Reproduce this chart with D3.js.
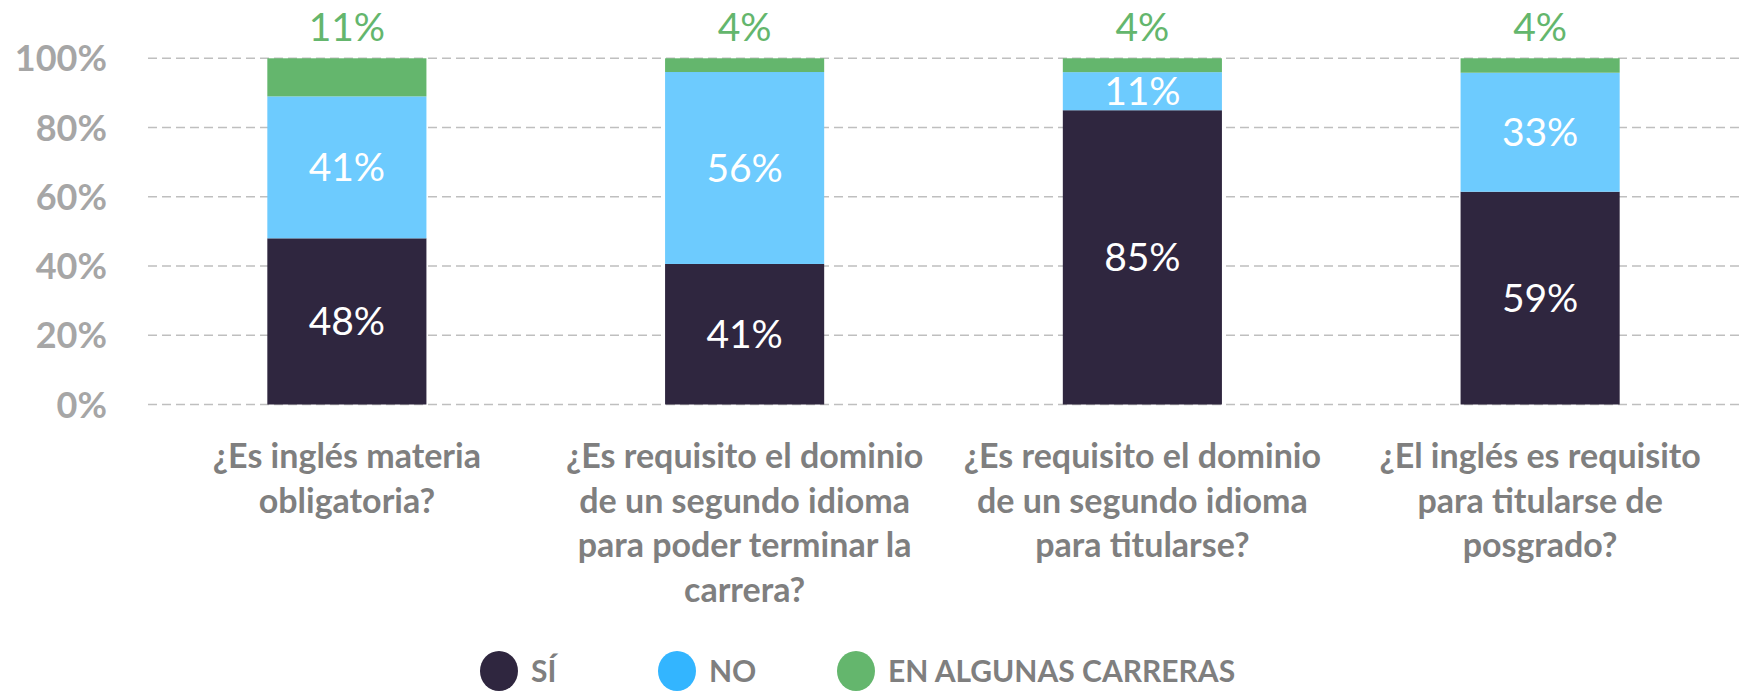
<!DOCTYPE html>
<html>
<head>
<meta charset="utf-8">
<script src="https://cdn.jsdelivr.net/npm/d3@7"></script>
<style>
  body { margin: 0; background: #fff; }
  svg { display: block; font-family: Lato, "Open Sans", sans-serif; }
</style>
</head>
<body>
<script>
  // chart data
  var categories = [
    ['¿Es inglés materia', 'obligatoria?'],
    ['¿Es requisito el dominio', 'de un segundo idioma', 'para poder terminar la', 'carrera?'],
    ['¿Es requisito el dominio', 'de un segundo idioma', 'para titularse?'],
    ['¿El inglés es requisito', 'para titularse de', 'posgrado?']
  ];
  var siValues = [48, 41, 85, 59];
  var noValues = [41, 56, 11, 33];
  var algunasValues = [11, 4, 4, 4];
  var seriesNames = ['SÍ', 'NO', 'EN ALGUNAS CARRERAS'];
  var yTicks = [0, 0.2, 0.4, 0.6, 0.8, 1];

  var w = 1739;
  var h = 692;
  var plotLeft = 148, plotRight = 1739, plotTop = 58.3, plotBottom = 404.5;

  var barColors = ['#2f263f', '#6dcbfe', '#64b66d'];
  var legendColors = ['#2f263f', '#33b5ff', '#64b66d'];

  var rows = categories.map(function(c, i) {
    return { i: i, si: siValues[i], no: noValues[i], alg: algunasValues[i] };
  });

  // 100% stacked, like the original
  var stack = d3.stack()
    .keys(['si', 'no', 'alg'])
    .offset(d3.stackOffsetExpand);
  var series = stack(rows);

  var xScale = d3.scaleBand()
    .domain(d3.range(categories.length))
    .range([plotLeft, plotRight])
    .paddingInner(0.6)
    .paddingOuter(0.3);

  var yScale = d3.scaleLinear()
    .domain([0, 1])
    .range([plotBottom, plotTop]);

  var svg = d3.select('body')
    .append('svg')
    .attr('width', w)
    .attr('height', h);

  // gridlines
  svg.selectAll('line.grid')
    .data(yTicks)
    .enter()
    .append('line')
    .attr('class', 'grid')
    .attr('x1', plotLeft)
    .attr('x2', plotRight)
    .attr('y1', function(d) { return yScale(d); })
    .attr('y2', function(d) { return yScale(d); })
    .attr('stroke', '#bfbfbf')
    .attr('stroke-width', 1.5)
    .attr('stroke-dasharray', '9,5');

  // y labels
  svg.selectAll('text.ytick')
    .data(yTicks)
    .enter()
    .append('text')
    .attr('class', 'ytick')
    .attr('x', 107)
    .attr('y', function(d) { return yScale(d) + 13; })
    .attr('text-anchor', 'end')
    .attr('font-size', '36px')
    .attr('font-weight', 'bold')
    .attr('fill', '#a6a6a6')
    .text(function(d) { return d3.format('.0%')(d); });

  // bars
  var groups = svg.selectAll('g.series')
    .data(series)
    .enter()
    .append('g')
    .attr('class', 'series')
    .attr('fill', function(d, i) { return barColors[i]; });

  groups.selectAll('rect')
    .data(function(d) { return d; })
    .enter()
    .append('rect')
    .attr('x', function(d) { return xScale(d.data.i); })
    .attr('y', function(d) { return yScale(d[1]); })
    .attr('width', xScale.bandwidth())
    .attr('height', function(d) { return yScale(d[0]) - yScale(d[1]); });

  // value labels
  series.forEach(function(s, k) {
    svg.selectAll('text.val' + k)
      .data(s)
      .enter()
      .append('text')
      .attr('class', 'val' + k)
      .attr('x', function(d) { return xScale(d.data.i) + xScale.bandwidth() / 2; })
      .attr('y', function(d) {
        if (k === 2) return yScale(1) - 17;
        return (yScale(d[0]) + yScale(d[1])) / 2 + 14;
      })
      .attr('text-anchor', 'middle')
      .attr('font-size', '39px')
      .attr('fill', k === 2 ? '#64b66d' : '#ffffff')
      .text(function(d) { return d.data[s.key] + '%'; });
  });

  // category labels
  var cats = svg.selectAll('text.cat')
    .data(categories)
    .enter()
    .append('text')
    .attr('class', 'cat')
    .attr('x', function(d, i) { return xScale(i) + xScale.bandwidth() / 2; })
    .attr('y', 468)
    .attr('text-anchor', 'middle')
    .attr('font-size', '34px')
    .attr('font-weight', 'bold')
    .attr('fill', '#7f7f7f');

  cats.selectAll('tspan')
    .data(function(d) { return d; })
    .enter()
    .append('tspan')
    .attr('x', function() { return d3.select(this.parentNode).attr('x'); })
    .attr('dy', function(d, i) { return i === 0 ? 0 : 44.5; })
    .text(function(d) { return d; });

  // legend
  var legendX = [499, 677, 856];
  var legend = svg.selectAll('g.legend')
    .data(seriesNames)
    .enter()
    .append('g')
    .attr('class', 'legend')
    .attr('transform', function(d, i) { return 'translate(' + legendX[i] + ',671)'; });

  legend.append('ellipse')
    .attr('rx', 19)
    .attr('ry', 20)
    .attr('fill', function(d, i) { return legendColors[i]; });

  legend.append('text')
    .attr('x', 32)
    .attr('y', 11)
    .attr('font-size', '30px')
    .attr('font-weight', 'bold')
    .attr('fill', '#7f7f7f')
    .text(function(d) { return d; });
</script>
</body>
</html>
